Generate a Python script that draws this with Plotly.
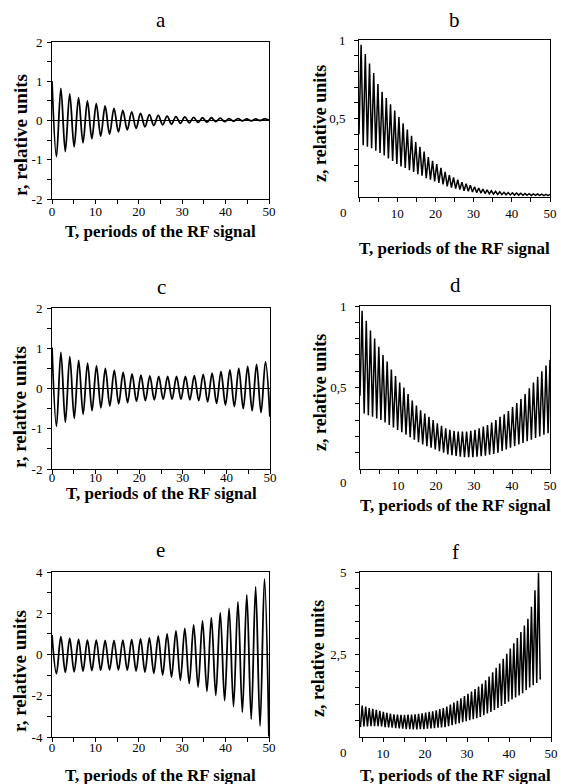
import plotly.graph_objects as go

W, H = 561, 784
SERIF = "Liberation Serif"

# ---------------- data ----------------
# r-panels: times of successive extrema (max / min alternate)
T_r_ext = [0, 1.02, 2.04, 3.06, 4.08, 5.1, 6.12, 7.14, 8.16, 9.18,
           10.2, 11.22, 12.24, 13.26, 14.28, 15.3, 16.32, 17.34, 18.36, 19.38,
           20.4, 21.42, 22.44, 23.46, 24.48, 25.5, 26.52, 27.54, 28.56, 29.58,
           30.6, 31.62, 32.64, 33.66, 34.68, 35.7, 36.72, 37.74, 38.76, 39.78,
           40.8, 41.82, 42.84, 43.86, 44.88, 45.9, 46.92, 47.94, 48.96, 49.98]

r_a = [1.0, -0.92, 0.82, -0.79, 0.68, -0.67, 0.58, -0.57, 0.5, -0.46,
       0.43, -0.4, 0.37, -0.35, 0.31, -0.29, 0.26, -0.24, 0.22, -0.2,
       0.18, -0.16, 0.15, -0.13, 0.13, -0.11, 0.11, -0.09, 0.1, -0.07,
       0.09, -0.06, 0.08, -0.05, 0.07, -0.04, 0.07, -0.03, 0.06, -0.03,
       0.05, -0.02, 0.05, -0.01, 0.04, -0.01, 0.04, 0.0, 0.04, 0.01]

r_c = [1.02, -0.94, 0.9, -0.84, 0.79, -0.74, 0.7, -0.64, 0.63, -0.55,
       0.56, -0.48, 0.5, -0.43, 0.45, -0.38, 0.4, -0.35, 0.36, -0.32,
       0.33, -0.3, 0.31, -0.28, 0.3, -0.27, 0.3, -0.27, 0.3, -0.27,
       0.3, -0.28, 0.32, -0.3, 0.35, -0.33, 0.38, -0.37, 0.42, -0.41,
       0.46, -0.45, 0.5, -0.5, 0.55, -0.55, 0.6, -0.6, 0.67, -0.7]

r_e = [0.94, -0.93, 0.86, -0.86, 0.78, -0.84, 0.73, -0.81, 0.7, -0.78,
       0.7, -0.76, 0.68, -0.75, 0.68, -0.75, 0.7, -0.76, 0.72, -0.8,
       0.76, -0.85, 0.81, -0.91, 0.89, -1.0, 1.0, -1.1, 1.14, -1.25,
       1.27, -1.41, 1.43, -1.58, 1.63, -1.79, 1.79, -1.98, 2.03, -2.24,
       2.24, -2.52, 2.55, -2.8, 2.89, -3.13, 3.28, -3.46, 3.66, -3.98]

# z-panels b and d: times of maxima and minima
T_zmax_bd = [0.55, 1.65, 2.75, 3.85, 4.95, 6.05, 7.15, 8.25, 9.35, 10.45,
             11.55, 12.65, 13.75, 14.85, 15.95, 17.05, 18.15, 19.25, 20.35, 21.45,
             22.55, 23.65, 24.75, 25.85, 26.95, 28.05, 29.15, 30.25, 31.35, 32.45,
             33.55, 34.65, 35.75, 36.85, 37.95, 39.05, 40.15, 41.25, 42.35, 43.45,
             44.55, 45.65, 46.75, 47.85, 48.95, 50.0]
T_zmin_bd = [0, 1.1, 2.2, 3.3, 4.4, 5.5, 6.6, 7.7, 8.8, 9.9,
             11.0, 12.1, 13.2, 14.3, 15.4, 16.5, 17.6, 18.7, 19.8, 20.9,
             22.0, 23.1, 24.2, 25.3, 26.4, 27.5, 28.6, 29.7, 30.8, 31.9,
             33.0, 34.1, 35.2, 36.3, 37.4, 38.5, 39.6, 40.7, 41.8, 42.9,
             44.0, 45.1, 46.2, 47.3, 48.4, 49.5]

zmax_b = [0.97, 0.91, 0.85, 0.79, 0.72, 0.67, 0.63, 0.59, 0.55, 0.51,
          0.47, 0.43, 0.39, 0.35, 0.32, 0.29, 0.255, 0.23, 0.21, 0.185,
          0.16, 0.14, 0.125, 0.11, 0.095, 0.085, 0.075, 0.065, 0.057, 0.05,
          0.045, 0.04, 0.036, 0.033, 0.03, 0.028, 0.027, 0.025, 0.024, 0.022,
          0.021, 0.02, 0.019, 0.018, 0.017, 0.016]
zmin_b = [0.4, 0.33, 0.32, 0.31, 0.295, 0.28, 0.265, 0.245, 0.23, 0.21,
          0.195, 0.185, 0.17, 0.16, 0.145, 0.135, 0.12, 0.11, 0.1, 0.09,
          0.08, 0.068, 0.06, 0.053, 0.047, 0.04, 0.036, 0.032, 0.028, 0.025,
          0.022, 0.02, 0.018, 0.016, 0.015, 0.014, 0.013, 0.012, 0.012, 0.011,
          0.011, 0.01, 0.01, 0.01, 0.009, 0.009]

zmax_d = [0.97, 0.91, 0.85, 0.8, 0.75, 0.7, 0.66, 0.61, 0.57, 0.53,
          0.5, 0.46, 0.42, 0.39, 0.36, 0.34, 0.32, 0.3, 0.28, 0.265,
          0.25, 0.24, 0.235, 0.23, 0.23, 0.23, 0.235, 0.24, 0.25, 0.26,
          0.27, 0.285, 0.3, 0.32, 0.335, 0.355, 0.38, 0.405, 0.43, 0.46,
          0.495, 0.53, 0.565, 0.6, 0.635, 0.67]
zmin_d = [0.45, 0.34, 0.33, 0.32, 0.31, 0.3, 0.285, 0.27, 0.255, 0.24,
          0.225, 0.21, 0.195, 0.18, 0.165, 0.15, 0.14, 0.13, 0.12, 0.11,
          0.1, 0.09, 0.085, 0.08, 0.075, 0.073, 0.072, 0.073, 0.075, 0.078,
          0.082, 0.087, 0.093, 0.1, 0.11, 0.12, 0.13, 0.14, 0.15, 0.16,
          0.17, 0.18, 0.19, 0.2, 0.21, 0.22]

# z-panel f
T_zmax_f = [5.02, 5.86, 6.7, 7.54, 8.38, 9.22, 10.06, 10.9, 11.74, 12.58,
            13.42, 14.26, 15.1, 15.94, 16.78, 17.62, 18.46, 19.3, 20.14, 20.98,
            21.82, 22.66, 23.5, 24.34, 25.18, 26.02, 26.86, 27.7, 28.54, 29.38,
            30.22, 31.06, 31.9, 32.74, 33.58, 34.42, 35.26, 36.1, 36.94, 37.78,
            38.62, 39.46, 40.3, 41.14, 41.98, 42.82, 43.66, 44.5, 45.34, 46.18,
            47.02]
T_zmin_f = [4.6, 5.44, 6.28, 7.12, 7.96, 8.8, 9.64, 10.48, 11.32, 12.16,
            13.0, 13.84, 14.68, 15.52, 16.36, 17.2, 18.04, 18.88, 19.72, 20.56,
            21.4, 22.24, 23.08, 23.92, 24.76, 25.6, 26.44, 27.28, 28.12, 28.96,
            29.8, 30.64, 31.48, 32.32, 33.16, 34.0, 34.84, 35.68, 36.52, 37.36,
            38.2, 39.04, 39.88, 40.72, 41.56, 42.4, 43.24, 44.08, 44.92, 45.76,
            46.6, 47.44]
zmax_f = [0.95, 0.92, 0.88, 0.85, 0.82, 0.79, 0.76, 0.73, 0.71, 0.69,
          0.68, 0.67, 0.67, 0.68, 0.68, 0.69, 0.7, 0.72, 0.74, 0.76,
          0.78, 0.81, 0.85, 0.88, 0.92, 0.98, 1.04, 1.1, 1.17, 1.24,
          1.31, 1.38, 1.45, 1.53, 1.61, 1.72, 1.83, 1.96, 2.1, 2.23,
          2.37, 2.52, 2.68, 2.84, 3.0, 3.18, 3.38, 3.58, 3.95, 4.45,
          4.98]
zmin_f = [0.3, 0.32, 0.32, 0.33, 0.33, 0.33, 0.32, 0.3, 0.29, 0.28,
          0.27, 0.26, 0.25, 0.24, 0.235, 0.23, 0.23, 0.235, 0.24, 0.25,
          0.26, 0.27, 0.28, 0.29, 0.3, 0.33, 0.36, 0.39, 0.42, 0.45,
          0.48, 0.51, 0.54, 0.57, 0.61, 0.66, 0.71, 0.76, 0.82, 0.88,
          0.94, 1.0, 1.07, 1.14, 1.2, 1.26, 1.33, 1.42, 1.5, 1.57,
          1.64, 1.74]

# tick labels
x_ticks = [0, 5, 10, 15, 20, 25, 30, 35, 40, 45, 50]
x_text_full = ["0", "", "10", "", "20", "", "30", "", "40", "", "50"]
x_text_z = ["", "", "10", "", "20", "", "30", "", "40", "", "50"]
y_ticks_r2 = [-2, -1.5, -1, -0.5, 0, 0.5, 1, 1.5, 2]
y_text_r2 = ["-2", "", "-1", "", "0", "", "1", "", "2"]
y_ticks_r4 = [-4, -3, -2, -1, 0, 1, 2, 3, 4]
y_text_r4 = ["-4", "", "-2", "", "0", "", "2", "", "4"]
y_ticks_z1 = [0.1, 0.2, 0.3, 0.4, 0.5, 0.6, 0.7, 0.8, 0.9, 1.0]
y_text_z1 = ["", "", "", "", "0,5", "", "", "", "", "1"]
y_ticks_z5 = [0.5, 1, 1.5, 2, 2.5, 3, 3.5, 4, 4.5, 5]
y_text_z5 = ["", "", "", "", "2,5", "", "", "", "", "5"]


def merge(tmax, vmax, tmin, vmin):
    pts = sorted(list(zip(tmax, vmax)) + list(zip(tmin, vmin)))
    return [p[0] for p in pts], [p[1] for p in pts]


# ---------------- panel layout (pixel boxes) ----------------
panels = [
    dict(letter="a", box=(52, 269, 42, 199), xr=[0, 50], yr=[-2, 2],
         yt=(y_ticks_r2, y_text_r2), xt=x_text_full, zero=True, xso=-4,
         ytitle="r, relative units", ytx=20, yty=135, xty=231, tly=20,
         data=(T_r_ext, r_a), spline=True),
    dict(letter="b", box=(359, 550, 40, 197), xr=[0, 50], yr=[0, 1],
         yt=(y_ticks_z1, y_text_z1), xt=x_text_z, zero=False, xso=0,
         ytitle="z, relative units", ytx=320, yty=124, xty=248, tly=20,
         data=merge(T_zmax_bd, zmax_b, T_zmin_bd, zmin_b), spline=False, zlab=212),
    dict(letter="c", box=(52, 270, 308, 469), xr=[0, 50], yr=[-2, 2],
         yt=(y_ticks_r2, y_text_r2), xt=x_text_full, zero=True, xso=-8,
         ytitle="r, relative units", ytx=19, yty=407, xty=494, tly=287,
         data=(T_r_ext, r_c), spline=True),
    dict(letter="d", box=(360, 550, 306, 469), xr=[0, 50], yr=[0, 1],
         yt=(y_ticks_z1, y_text_z1), xt=x_text_z, zero=False, xso=0,
         ytitle="z, relative units", ytx=320, yty=393, xty=505, tly=285,
         data=merge(T_zmax_bd, zmax_d, T_zmin_bd, zmin_d), spline=False, zlab=482),
    dict(letter="e", box=(52, 269, 572, 737), xr=[0, 50], yr=[-4, 4],
         yt=(y_ticks_r4, y_text_r4), xt=x_text_full, zero=True, xso=-6,
         ytitle="r, relative units", ytx=19, yty=671, xty=775, tly=550,
         data=(T_r_ext, r_e), spline=True),
    dict(letter="f", box=(360, 551, 572, 737), xr=[4.5, 50], yr=[0, 5],
         yt=(y_ticks_z5, y_text_z5), xt=x_text_z, zero=False, xso=0,
         ytitle="z, relative units", ytx=318, yty=659, xty=775, tly=552,
         data=merge(T_zmax_f, zmax_f, T_zmin_f, zmin_f), spline=False, zlab=752),
]

fig = go.Figure()
layout = dict(width=W, height=H, margin=dict(l=0, r=0, t=0, b=0, autoexpand=False),
              paper_bgcolor="white", plot_bgcolor="white", showlegend=False,
              font=dict(family=SERIF, size=13, color="black"))
annotations = []

for i, p in enumerate(panels):
    n = "" if i == 0 else str(i + 1)
    x0, x1, y0, y1 = p["box"]
    xs, ys = p["data"]
    fig.add_trace(go.Scatter(
        x=xs, y=ys, mode="lines",
        line=dict(color="black", width=1.8 if p["spline"] else 1.5,
                  shape="spline" if p["spline"] else "linear"),
        xaxis="x" + n, yaxis="y" + n, hoverinfo="skip"))
    layout["xaxis" + n] = dict(
        domain=[x0 / W, x1 / W], anchor="y" + n, range=p["xr"],
        tickmode="array", tickvals=x_ticks, ticktext=p["xt"],
        ticks="outside", ticklen=4, tickwidth=1, tickcolor="black",
        showline=True, linecolor="black", linewidth=1, mirror=True,
        showgrid=False, zeroline=False, automargin=False,
        ticklabelstandoff=p["xso"],
        tickfont=dict(family=SERIF, size=13, color="black"))
    layout["yaxis" + n] = dict(
        domain=[1 - y1 / H, 1 - y0 / H], anchor="x" + n, range=p["yr"],
        tickmode="array", tickvals=p["yt"][0], ticktext=p["yt"][1],
        ticks="outside", ticklen=4, tickwidth=1, tickcolor="black",
        showline=True, linecolor="black", linewidth=1, mirror=True,
        showgrid=False, zeroline=p["zero"], zerolinecolor="black", zerolinewidth=1,
        automargin=False,
        tickfont=dict(family=SERIF, size=13, color="black"),
        ticklabelstandoff=2 if p["spline"] else 6)
    cx = (x0 + x1) / 2
    # panel letter
    annotations.append(dict(text=p["letter"], x=cx / W, y=1 - p["tly"] / H,
                            xref="paper", yref="paper", showarrow=False,
                            xanchor="center", yanchor="middle",
                            font=dict(family=SERIF, size=21, color="black")))
    # x-axis title
    annotations.append(dict(text="<b>T, periods of the RF signal</b>",
                            x=cx / W, y=1 - p["xty"] / H,
                            xref="paper", yref="paper", showarrow=False,
                            xanchor="center", yanchor="middle",
                            font=dict(family=SERIF, size=17, color="black")))
    # y-axis title
    annotations.append(dict(text="<b>" + p["ytitle"] + "</b>",
                            x=p["ytx"] / W, y=1 - p["yty"] / H, textangle=-90,
                            xref="paper", yref="paper", showarrow=False,
                            xanchor="center", yanchor="middle",
                            font=dict(family=SERIF, size=19 if p["spline"] else 18,
                                      color="black")))
    # detached origin label of the z panels
    if "zlab" in p:
        annotations.append(dict(text="0", x=343 / W, y=1 - p["zlab"] / H,
                                xref="paper", yref="paper", showarrow=False,
                                xanchor="center", yanchor="middle",
                                font=dict(family=SERIF, size=13, color="black")))

layout["annotations"] = annotations
fig.update_layout(**layout)
fig.write_html("out.html", config={"displayModeBar": False},
               post_script="document.body.style.margin='0';"
                           "document.body.style.overflow='hidden';")
